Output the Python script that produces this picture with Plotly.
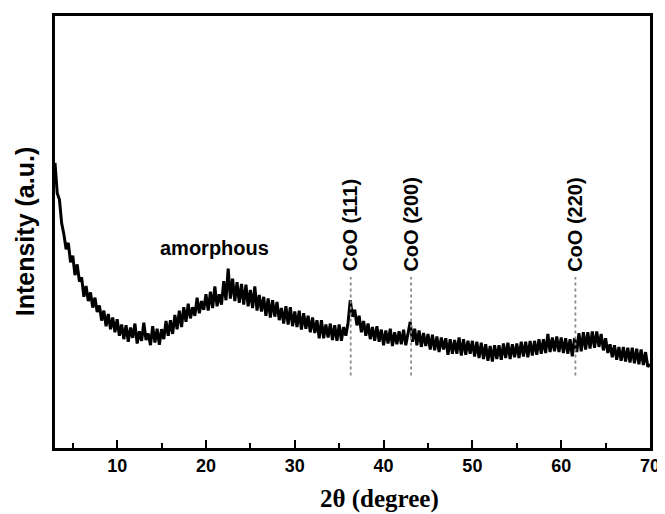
import plotly.graph_objects as go

# 2-theta grid (degrees), 0.25 deg steps from 3 to 70
two_theta = [round(3 + 0.25 * i, 2) for i in range(269)]

# Intensity (a.u.), 4 values per degree
intensity = [
    66.0, 59.0, 57.5, 52.0,   # 3
    49.5, 46.0, 47.5, 43.0,   # 4
    44.5, 40.0, 42.5, 38.5,   # 5
    39.5, 35.0, 37.5, 34.0,   # 6
    36.0, 32.5, 34.8, 31.5,   # 7
    33.0, 29.5, 31.8, 28.2,   # 8
    31.0, 27.5, 30.2, 26.8,   # 9
    29.8, 26.0, 28.6, 25.2,   # 10
    28.4, 24.6, 27.9, 25.5,   # 11
    28.8, 24.2, 27.0, 24.8,   # 12
    29.0, 25.0, 26.5, 23.8,   # 13
    28.2, 24.4, 27.6, 23.9,   # 14
    27.5, 25.2, 29.4, 26.0,   # 15
    29.6, 26.4, 30.8, 27.5,   # 16
    31.8, 28.0, 32.6, 29.2,   # 17
    33.4, 30.0, 32.6, 30.6,   # 18
    34.8, 31.2, 34.0, 32.0,   # 19
    35.6, 31.8, 36.2, 32.4,   # 20
    37.4, 32.8, 35.6, 33.2,   # 21
    38.6, 34.2, 41.5, 34.6,   # 22
    39.2, 34.0, 38.4, 33.6,   # 23
    38.0, 33.2, 37.8, 32.8,   # 24
    36.6, 32.4, 37.4, 31.8,   # 25
    35.4, 31.6, 35.0, 30.6,   # 26
    34.6, 30.2, 34.2, 30.4,   # 27
    33.8, 29.6, 32.4, 28.8,   # 28
    32.8, 28.6, 32.6, 28.2,   # 29
    31.6, 28.0, 31.8, 27.4,   # 30
    31.2, 27.6, 30.6, 26.8,   # 31
    30.2, 26.6, 29.6, 25.4,   # 32
    29.6, 25.4, 28.6, 25.6,   # 33
    28.8, 25.0, 28.4, 24.8,   # 34
    28.6, 24.8, 28.0, 26.0,   # 35
    29.0, 34.2, 30.4, 32.0,   # 36
    28.4, 30.6, 26.8, 29.4,   # 37
    26.0, 28.8, 25.2, 28.0,   # 38
    24.8, 28.2, 24.6, 27.4,   # 39
    23.8, 27.2, 24.2, 27.6,   # 40
    23.6, 26.8, 24.0, 27.0,   # 41
    24.0, 27.4, 23.8, 26.6,   # 42
    29.2, 24.6, 27.6, 23.8,   # 43
    27.2, 23.4, 26.6, 23.6,   # 44
    26.4, 22.8, 26.2, 22.6,   # 45
    25.8, 22.2, 25.6, 22.8,   # 46
    25.4, 21.6, 25.2, 21.8,   # 47
    25.0, 21.8, 25.6, 21.4,   # 48
    25.2, 21.6, 24.8, 21.8,   # 49
    24.8, 21.2, 24.6, 20.8,   # 50
    24.4, 20.6, 24.0, 20.2,   # 51
    23.6, 20.0, 23.8, 20.6,   # 52
    23.8, 20.4, 24.2, 20.8,   # 53
    24.4, 20.6, 24.0, 21.0,   # 54
    24.2, 20.8, 24.6, 21.2,   # 55
    24.6, 21.0, 24.8, 21.4,   # 56
    24.8, 21.6, 25.2, 21.8,   # 57
    25.2, 22.0, 26.4, 22.2,   # 58
    25.6, 22.4, 25.8, 22.2,   # 59
    25.6, 22.0, 25.4, 21.8,   # 60
    25.2, 21.2, 25.4, 22.2,   # 61
    26.6, 22.4, 26.8, 22.8,   # 62
    26.8, 23.0, 27.0, 23.2,   # 63
    27.0, 23.4, 26.4, 22.6,   # 64
    25.4, 22.0, 24.0, 21.0,   # 65
    23.8, 20.4, 23.4, 20.2,   # 66
    23.4, 20.0, 23.2, 19.8,   # 67
    23.2, 19.6, 23.0, 19.4,   # 68
    22.8, 19.2, 22.2, 18.8,   # 69
    19.4,                     # 70
]

# Reflection markers
peak_labels = ["CoO (111)", "CoO (200)", "CoO (220)"]
peak_positions = [36.3, 43.1, 61.6]
marker_low, marker_high = 16.8, 39.6
x_ticks = [10, 20, 30, 40, 50, 60, 70]

SANS = "Liberation Sans, Arial, sans-serif"
SERIF = "Liberation Serif, Times New Roman, serif"

fig = go.Figure()
fig.add_trace(go.Scatter(x=two_theta, y=intensity, mode="lines",
                         line=dict(color="black", width=3), showlegend=False))

for pos in peak_positions:
    fig.add_trace(go.Scatter(x=[pos, pos], y=[marker_low, marker_high], mode="lines",
                             line=dict(color="#8a8a8a", width=1.8, dash="dot"),
                             showlegend=False))

for lab, pos in zip(peak_labels, peak_positions):
    fig.add_annotation(x=pos, y=marker_high + 0.8, text=f"<b>{lab}</b>", textangle=-90,
                       showarrow=False, xanchor="center", yanchor="bottom",
                       font=dict(family=SANS, size=20, color="black"))

fig.add_annotation(x=21.0, y=46.4, text="<b>amorphous</b>", showarrow=False,
                   font=dict(family=SANS, size=20, color="black"))

fig.add_annotation(xref="paper", yref="paper", x=-0.05, y=0.5, text="<b>Intensity (a.u.)</b>",
                   textangle=-90, showarrow=False, xanchor="center", yanchor="middle",
                   font=dict(family=SANS, size=25, color="black"))

fig.add_annotation(xref="paper", yref="paper", x=0.545, y=-0.117, text="<b>2θ (degree)</b>",
                   showarrow=False, xanchor="center", yanchor="middle",
                   font=dict(family=SERIF, size=25, color="black"))

# the page adds an 8px body margin, so the figure is sized/placed to compensate
fig.update_layout(
    width=657, height=506,
    margin=dict(l=47, r=15, t=5, b=66),
    paper_bgcolor="white", plot_bgcolor="white",
    xaxis=dict(range=[3, 70], tickvals=x_ticks, ticktext=[f"<b>{t}</b>" for t in x_ticks],
               ticks="inside", ticklen=8, tickwidth=2, tickcolor="black",
               minor=dict(ticks="inside", dtick=5, tick0=5, ticklen=5, tickwidth=2, tickcolor="black"),
               showline=True, linewidth=2.5, linecolor="black", mirror=True,
               showgrid=False, zeroline=False,
               tickfont=dict(family=SANS, size=18, color="black")),
    yaxis=dict(range=[0, 100], showticklabels=False, ticks="",
               showline=True, linewidth=2.5, linecolor="black", mirror=True,
               showgrid=False, zeroline=False),
)

fig.write_html("out.html")
